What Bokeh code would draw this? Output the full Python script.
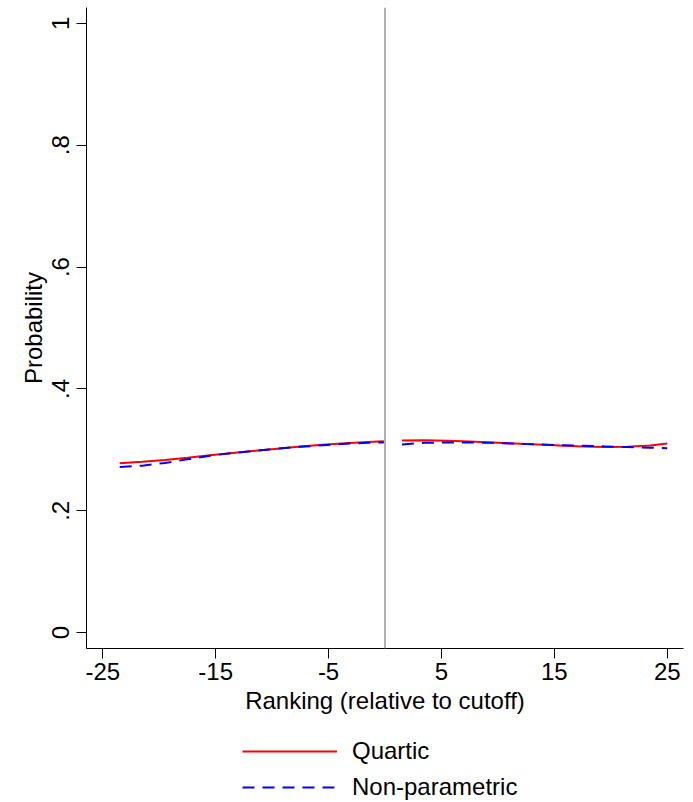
from bokeh.plotting import figure
from bokeh.models import Range1d, FixedTicker, Span, Legend, LegendItem
from bokeh.layouts import column
from bokeh.embed import file_html
from bokeh.resources import INLINE

# ---- data ----
left_x = [-23.5, -21.5, -19.5, -17.5, -15.5, -13.5, -11.5, -9.5, -7.5, -5.5, -3.5, -1.5, -0.1]
left_quartic = [0.278, 0.2805, 0.2835, 0.287, 0.291, 0.295, 0.2985, 0.302, 0.3055, 0.3085, 0.311, 0.313, 0.3143]
left_nonpar = [0.2717, 0.274, 0.2785, 0.2845, 0.2905, 0.2948, 0.2985, 0.302, 0.305, 0.3075, 0.31, 0.3115, 0.3122]

right_x = [1.5, 3.5, 5.5, 7.5, 9.5, 11.5, 13.5, 15.5, 17.5, 19.5, 21.5, 23.5, 25.0]
right_quartic = [0.3155, 0.3158, 0.315, 0.3138, 0.3122, 0.3105, 0.3088, 0.307, 0.3055, 0.3048, 0.3052, 0.307, 0.3105]
right_nonpar = [0.3089, 0.3115, 0.3122, 0.3122, 0.3115, 0.3102, 0.309, 0.3078, 0.3068, 0.3057, 0.3046, 0.3035, 0.3028]

x_ticks = [-25, -15, -5, 5, 15, 25]
x_tick_labels = ["-25", "-15", "-5", "5", "15", "25"]
y_ticks = [0, 0.2, 0.4, 0.6, 0.8, 1]
y_tick_labels = ["0", ".2", ".4", ".6", ".8", "1"]
series_names = ["Quartic", "Non-parametric"]
cutoff = 0

FONT = "Liberation Sans"
FS = "24px"
RED = "#ff0000"
BLUE = "#0000ff"
DASH = "12 8"

p = figure(width=693, height=726, output_backend="svg", toolbar_location=None,
           x_range=Range1d(-26.44, 26.44), y_range=Range1d(-0.026, 1.026),
           min_border_left=86, min_border_right=10, min_border_top=7, min_border_bottom=78)
p.outline_line_color = None
p.grid.visible = False
p.background_fill_color = "white"
p.border_fill_color = "white"

p.add_layout(Span(location=cutoff, dimension="height", line_color="#b0b0b0", line_width=2))

p.line(left_x, left_quartic, line_color=RED, line_width=2)
p.line(right_x, right_quartic, line_color=RED, line_width=2)
p.line(left_x, left_nonpar, line_color=BLUE, line_width=2, line_dash=DASH)
p.line(right_x, right_nonpar, line_color=BLUE, line_width=2, line_dash=DASH)

for ax in (p.xaxis[0], p.yaxis[0]):
    ax.axis_line_color = "black"
    ax.axis_line_width = 1
    ax.major_tick_line_color = "black"
    ax.major_tick_line_width = 1
    ax.major_tick_out = 10
    ax.major_tick_in = 0
    ax.minor_tick_line_color = None
    ax.major_label_text_font = FONT
    ax.major_label_text_font_size = FS
    ax.major_label_text_color = "black"
    ax.axis_label_text_font = FONT
    ax.axis_label_text_font_size = FS
    ax.axis_label_text_font_style = "normal"
    ax.axis_label_text_color = "black"

p.xaxis.ticker = FixedTicker(ticks=x_ticks)
p.xaxis.major_label_overrides = {v: s for v, s in zip(x_ticks, x_tick_labels)}
p.xaxis.major_label_standoff = 4
p.xaxis.axis_label = "Ranking (relative to cutoff)"
p.xaxis.axis_label_standoff = 4

p.yaxis.ticker = FixedTicker(ticks=y_ticks)
p.yaxis.major_label_overrides = {v: s for v, s in zip(y_ticks, y_tick_labels)}
p.yaxis.major_label_orientation = "vertical"
p.yaxis.major_label_standoff = 7
p.yaxis.axis_label = "Probability"
p.yaxis.axis_label_standoff = 3

# ---- legend strip below the plot (its frame is aligned with the main plot's frame) ----
lg = figure(width=693, height=76, output_backend="svg", toolbar_location=None,
            x_axis_type=None, y_axis_type=None,
            x_range=Range1d(0, 1), y_range=Range1d(0, 1),
            min_border_left=86, min_border_right=10, min_border_top=0, min_border_bottom=0)
lg.outline_line_color = None
lg.grid.visible = False
lg.background_fill_color = "white"
lg.border_fill_color = "white"
# one-point lines: draw nothing in the strip, but give the legend its line styles
q_r = lg.line(left_x[:1], left_quartic[:1], line_color=RED, line_width=2)
n_r = lg.line(left_x[:1], left_nonpar[:1], line_color=BLUE, line_width=2, line_dash=DASH)

legend = Legend(items=[LegendItem(label=series_names[0], renderers=[q_r]),
                       LegendItem(label=series_names[1], renderers=[n_r])],
                location=(156, 0), orientation="vertical",
                border_line_color=None, background_fill_alpha=0,
                padding=0, margin=0, spacing=6,
                glyph_width=95, glyph_height=30, label_standoff=15,
                label_text_font=FONT, label_text_font_size=FS, label_text_color="black")
lg.add_layout(legend)

layout = column(p, lg, spacing=0)
open("out.html", "w").write(file_html(layout, INLINE))
